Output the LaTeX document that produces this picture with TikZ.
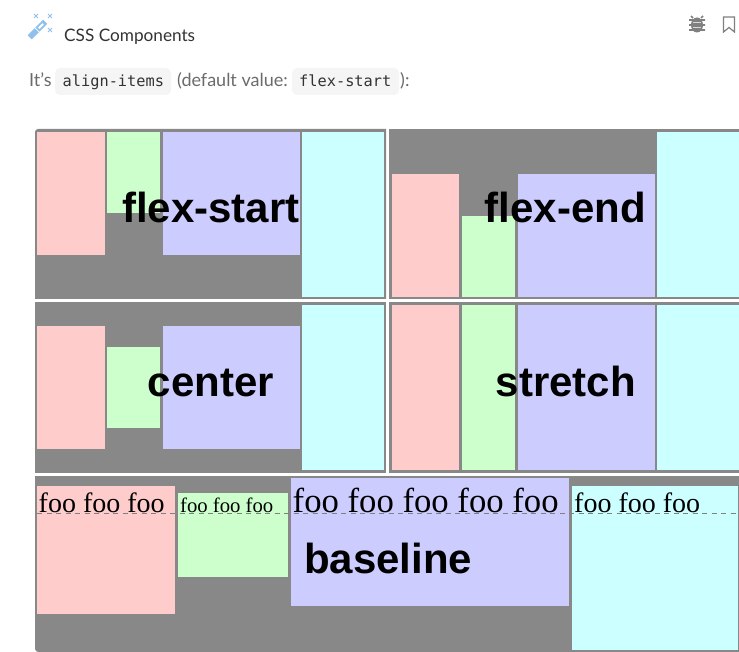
\documentclass[tikz,border=0pt]{standalone}
\usepackage{fontspec}
\setmainfont{Lato}
\newfontfamily\serifface{Liberation Serif}
\newfontfamily\labelface{Liberation Sans}
\newfontfamily\codeface{DejaVu Sans Mono}
\definecolor{panelcol}{HTML}{888888}
\definecolor{redcol}{HTML}{FFCCCC}
\definecolor{greencol}{HTML}{CCFFCC}
\definecolor{bluecol}{HTML}{CCCCFF}
\definecolor{cyancol}{HTML}{CCFFFF}
\definecolor{iconcol}{HTML}{8FC1EC}
\tikzset{
  word/.style = {anchor = base west, inner sep = 0pt, text = black},
  flexlabel/.style = {word, font = \labelface\bfseries\fontsize{42}{42}\selectfont},
  foobig/.style = {word, font = \serifface\fontsize{28}{28}\selectfont},
  foosmall/.style = {word, font = \serifface\fontsize{20.7}{21}\selectfont},
  foohuge/.style = {word, font = \serifface\fontsize{34.7}{35}\selectfont},
  bodytext/.style = {word, text = black!58, font = \fontsize{18}{18}\selectfont},
  codetext/.style = {word, text = black!80, font = \codeface\fontsize{15.3}{16}\selectfont},
  pill/.style = {fill = black!4, rounded corners = 5pt}
}
\begin{document}
\begin{tikzpicture}[x = 1pt, y = -1pt]
\useasboundingbox (0, 0) rectangle (739, 652);
\fill[white] (0, 0) rectangle (739, 652);
% header
\fill[iconcol, rotate around = {45:(36, 31)}] (27, 28) rectangle (37, 34);
\fill[iconcol, rotate around = {45:(36, 31)}] (38, 28) rectangle (49, 34);
\fill[white, rotate around = {45:(36, 31)}] (40, 30) rectangle (46, 32);
\draw[iconcol, line width = 1pt] (34, 14) -- (38, 18) (34, 18) -- (38, 14) (48, 14) -- (52, 18) (48, 18) -- (52, 14) (48, 28) -- (52, 32) (48, 32) -- (52, 28);
\node[word, text = black!80, font = \fontsize{17.2}{18}\selectfont] (title) at (64, 41.5) {CSS Components};
\fill[black!50] (697, 25) ellipse (6 and 7.5);
\draw[black!50, line width = 1.6pt] (689, 20) -- (705, 20) (689, 25) -- (705, 25) (689, 30) -- (705, 30) (693, 18) -- (691, 16) (701, 18) -- (703, 16);
\draw[black!15, line width = 0.9pt] (693, 22.5) -- (701, 22.5) (693, 27.5) -- (701, 27.5);
\draw[black!50, line width = 1.2pt] (723.5, 17) -- (734.5, 17) -- (734.5, 32) -- (729, 27.5) -- (723.5, 32) -- cycle;
% intro line
\fill[pill] (55, 68) rectangle (171, 95);
\fill[pill] (292, 68) rectangle (399, 95);
\node[bodytext] (its) at (29, 87) {It’s};
\node[codetext] (aligncode) at (62.5, 87) {align-items};
\node[bodytext] (defaultval) at (177, 87) {(default value:};
\node[codetext] (startcode) at (299, 87) {flex-start};
\node[bodytext] (closing) at (400, 87) {):};
% flex-start
\fill[panelcol] (35, 299) [rounded corners = 3pt] -- (35, 129) [sharp corners] -- (386, 129) -- (386, 299) -- cycle;
\fill[redcol] (37.3, 132) rectangle (104.5, 255);
\fill[greencol] (107, 132) rectangle (160.3, 212.7);
\fill[bluecol] (163, 132) rectangle (300, 255);
\fill[cyancol] (302.3, 132) rectangle (383.7, 297);
\node[flexlabel] (startlabel) at (122, 223) {flex-start};
% flex-end
\fill[panelcol] (389, 129) rectangle (739, 299);
\fill[redcol] (391.7, 174) rectangle (459.3, 297);
\fill[greencol] (462, 216) rectangle (515, 297);
\fill[bluecol] (517.7, 174) rectangle (654.5, 297);
\fill[cyancol] (657, 132) rectangle (739, 297);
\node[flexlabel] (endlabel) at (484.5, 223) {flex-end};
% center
\fill[panelcol] (35, 302) rectangle (386, 473);
\fill[redcol] (37.3, 326) rectangle (104.5, 449);
\fill[greencol] (107, 347) rectangle (160.3, 428);
\fill[bluecol] (163, 326) rectangle (300, 449);
\fill[cyancol] (302.3, 305) rectangle (383.7, 470);
\node[flexlabel] (centerlabel) at (147.5, 396) {center};
% stretch
\fill[panelcol] (389, 302) rectangle (739, 473);
\fill[redcol] (391.7, 305) rectangle (459.3, 470);
\fill[greencol] (462, 305) rectangle (515, 470);
\fill[bluecol] (517.7, 305) rectangle (654.5, 470);
\fill[cyancol] (657, 305) rectangle (739, 470);
\node[flexlabel] (stretchlabel) at (495.5, 396) {stretch};
% baseline
\fill[panelcol] (35, 476) rectangle (739, 652);
\fill[white] (35, 652) -- (38, 652) arc[start angle = 90, end angle = 180, radius = 3] -- cycle;
\fill[redcol] (37.3, 485.5) rectangle (175.3, 613.7);
\fill[greencol] (177.7, 492.5) rectangle (288, 577);
\fill[bluecol] (290.8, 478.3) rectangle (569, 606.3);
\fill[cyancol] (572, 485.7) rectangle (738.3, 650.3);
\draw[black!50, dash pattern = on 5pt off 4.5pt, line width = 0.7pt] (37, 513) -- (738, 513);
\node[foobig] (fooone) at (38.5, 512.5) {foo foo foo};
\node[foosmall] (footwo) at (180, 512.5) {foo foo foo};
\node[foohuge] (foothree) at (292.5, 512.5) {foo foo foo foo foo};
\node[foobig] (foofour) at (574, 512.5) {foo foo foo};
\node[flexlabel] (baselabel) at (304, 573) {baseline};
\end{tikzpicture}
\end{document}
